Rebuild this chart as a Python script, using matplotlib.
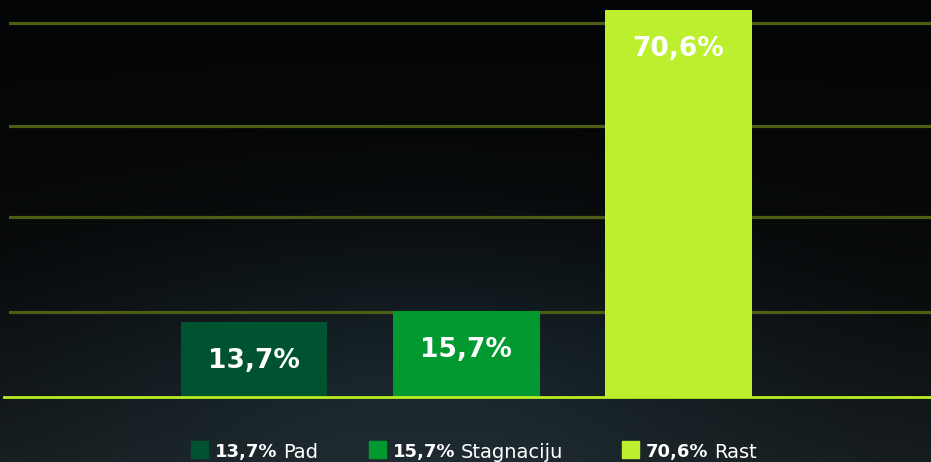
import numpy as np
import matplotlib.pyplot as plt
from matplotlib.patches import Rectangle

# data
categories = ["Pad", "Stagnaciju", "Rast"]
values = [13.7, 15.7, 70.6]
labels = ["13,7%", "15,7%", "70,6%"]
colors = ["#005331", "#029a30", "#bcf02e"]
grid_levels = [15.5, 32.8, 49.5, 68.2]

plt.rcParams['font.family'] = ['DejaVu Sans']

fig = plt.figure(figsize=(9.31, 4.62), dpi=100)

# dark background, a bit lighter towards the bottom
bg = fig.add_axes([0, 0, 1, 1], zorder=0)
yy, xx = np.mgrid[0:1:200j, 0:1:400j]
glow = np.exp(-((xx - 0.45) ** 2) / 0.15 - ((yy - 0.15) ** 2) / 0.12)
base = 0.02 + 0.07 * (1 - yy) ** 3
r = base * 0.95 + 0.04 * glow
g = base * 1.15 + 0.08 * glow
b = base * 1.2 + 0.10 * glow
img = np.clip(np.dstack([r, g, b]), 0, 1)
bg.imshow(img, origin="lower", aspect="auto", extent=[0, 1, 0, 1])
bg.axis("off")

ax = fig.add_axes([9 / 931, 65 / 462, 922 / 931, 397 / 462], zorder=1)
ax.patch.set_alpha(0)
x = np.arange(len(values))
ax.bar(x, values, width=0.69, color=colors, zorder=3)
for lvl in grid_levels:
    ax.axhline(lvl, color="#4c5e14", lw=2.3, zorder=1)
ax.axhline(0, xmin=-0.005, color="#b8ee22", lw=2.0, zorder=4, clip_on=False)

for xi, v, lab in zip(x, values, labels):
    ax.annotate(lab, xy=(xi, v), xytext=(0, -28), textcoords="offset points",
                ha="center", va="center", color="white", fontsize=19,
                fontweight="bold", zorder=5)

ax.set_xlim(-1.156, 3.19)
ax.set_ylim(0, 72.4)
ax.axis("off")

# custom legend at the bottom
leg_x = [191 / 931, 369 / 931, 622 / 931]
for lx, c, lab, cat in zip(leg_x, colors, labels, categories):
    fig.patches.append(Rectangle((lx, 4 / 462), 17 / 931, 17 / 462,
                                 transform=fig.transFigure, color=c, zorder=5))
    t = fig.text(lx + 24 / 931, 10 / 462, lab, color="white", fontsize=13,
                 fontweight="bold", va="center", ha="left", zorder=5)
    ax.annotate(cat, xy=(1, 0.5), xycoords=t, xytext=(4, 0),
                textcoords="offset points", va="center",
                ha="left", color="white", fontsize=14,
                annotation_clip=False, zorder=5)

fig.savefig("out.png", dpi=100)
